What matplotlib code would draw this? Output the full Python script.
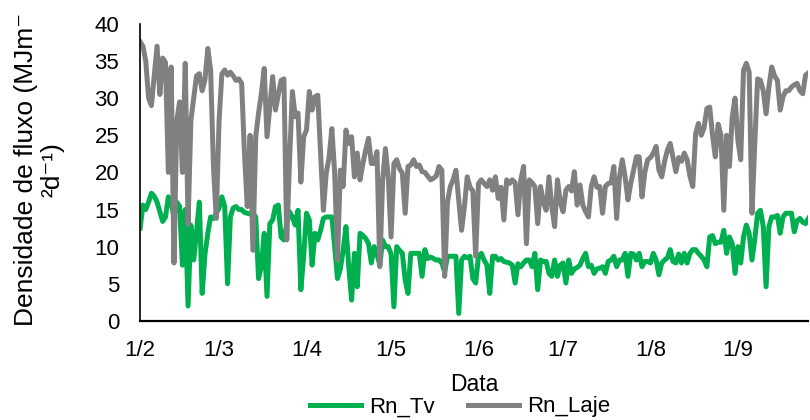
import numpy as np
import pandas as pd
import matplotlib
matplotlib.use("Agg")
import matplotlib.pyplot as plt
import matplotlib.dates as mdates

plt.rcParams['font.family'] = ['Liberation Sans', 'DejaVu Sans']

# daily net radiation (MJ m-2 d-1), from 1 Feb
rn_laje = [
    37.6, 37.0, 35.0, 30.0, 29.0, 33.0, 37.0, 30.5, 35.4, 34.8,
    20.0, 34.2, 7.8, 27.0, 29.5, 20.0, 34.7, 13.0, 27.0, 30.0,
    33.0, 33.3, 31.0, 32.5, 36.7, 33.8, 20.8, 13.8, 27.0, 33.3,
    33.8, 33.1, 33.5, 33.0, 32.4, 32.6, 32.0, 22.6, 15.4, 25.0,
    9.5, 24.8, 28.0, 30.6, 34.0, 24.8, 28.8, 32.9, 28.4, 30.5,
    32.4, 32.6, 10.9, 21.7, 30.9, 27.5, 28.0, 18.7, 24.8, 25.7,
    30.9, 28.4, 30.2, 30.4, 22.6, 14.9, 19.9, 22.0, 25.9, 19.9,
    8.2, 20.3, 18.1, 25.7, 23.9, 24.8, 19.4, 22.6, 19.0, 21.2,
    23.0, 24.6, 21.2, 21.2, 22.8, 7.3, 19.0, 23.2, 19.4, 11.3,
    21.2, 21.7, 20.5, 19.9, 14.5, 20.8, 21.0, 21.7, 20.8, 21.0,
    20.1, 20.0, 19.5, 19.0, 19.2, 19.5, 20.8, 20.3, 6.0, 16.0,
    18.1, 19.0, 20.3, 16.3, 12.2, 15.4, 19.4, 18.0, 17.5, 8.7,
    18.5, 19.0, 18.5, 18.1, 19.0, 17.6, 19.4, 16.5, 18.0, 13.6,
    19.0, 18.5, 19.0, 18.6, 14.3, 19.0, 20.8, 10.4, 19.0, 18.6,
    18.1, 13.1, 18.1, 16.0, 14.9, 19.4, 15.4, 12.7, 19.0, 16.0,
    14.7, 17.6, 18.1, 17.5, 20.1, 15.6, 18.3, 15.6, 14.7, 14.0,
    18.1, 19.4, 18.0, 18.1, 14.5, 18.1, 18.5, 18.6, 20.8, 13.8,
    19.4, 21.7, 19.4, 16.3, 18.5, 20.3, 22.1, 22.1, 16.7, 20.0,
    21.7, 22.0, 22.6, 23.5, 20.3, 19.4, 21.5, 23.0, 23.9, 22.0,
    20.1, 22.0, 21.5, 22.6, 21.7, 19.5, 18.1, 25.2, 26.6, 25.0,
    26.0, 28.6, 28.8, 25.0, 22.1, 26.5, 25.0, 14.9, 25.0, 20.8,
    27.5, 30.0, 24.3, 21.7, 33.8, 34.7, 33.5, 14.5, 24.0, 32.6,
    32.4, 31.0, 27.9, 31.5, 34.2, 33.0, 32.4, 28.4, 30.2, 31.0,
    31.0, 31.5, 31.8, 32.0, 31.0, 30.6, 33.1, 33.4,
]

rn_tv = [
    12.5, 15.6, 15.0, 16.0, 17.2, 16.8, 16.0, 14.7, 13.4, 14.0,
    16.7, 16.0, 14.0, 16.0, 15.4, 7.5, 15.0, 2.0, 12.9, 8.2,
    12.0, 16.0, 3.7, 9.0, 11.8, 14.0, 13.8, 14.5, 15.2, 16.7,
    15.4, 5.0, 14.0, 15.2, 15.4, 15.0, 15.0, 14.6, 14.5, 14.4,
    14.5, 14.0, 5.7, 7.3, 11.8, 3.3, 13.1, 13.6, 15.4, 15.6,
    11.3, 10.9, 13.1, 14.7, 14.0, 12.9, 14.9, 4.2, 8.7, 14.5,
    13.6, 7.5, 11.8, 10.9, 12.2, 13.8, 14.0, 14.0, 14.0, 10.0,
    5.7, 7.0, 9.5, 12.7, 7.3, 2.8, 9.1, 4.6, 11.8, 11.5,
    11.1, 10.4, 7.8, 10.0, 9.0, 7.5, 10.9, 10.0, 10.0, 9.0,
    1.9, 10.0, 9.5, 9.1, 5.5, 3.7, 9.1, 9.1, 9.1, 9.1,
    6.0, 9.6, 8.4, 8.6, 8.4, 8.2, 8.2, 7.8, 6.6, 8.7,
    8.7, 8.7, 8.7, 1.0, 8.2, 8.7, 8.5, 8.7, 5.7, 5.1,
    8.7, 9.1, 8.2, 7.5, 3.7, 8.7, 8.7, 8.2, 8.4, 8.0,
    7.9, 7.8, 7.5, 5.1, 7.7, 7.3, 7.8, 8.2, 8.2, 7.3,
    9.1, 4.2, 8.2, 8.0, 8.0, 6.4, 6.0, 8.2, 6.0, 7.5,
    7.8, 5.1, 8.2, 6.4, 7.0, 7.2, 7.5, 8.4, 9.1, 7.3,
    7.5, 6.4, 7.0, 7.1, 7.3, 6.4, 8.0, 8.2, 8.7, 7.3,
    8.2, 8.2, 9.1, 6.0, 9.1, 9.0, 8.2, 9.1, 7.3, 8.0,
    8.0, 7.8, 9.1, 8.2, 6.2, 7.8, 8.2, 8.5, 9.6, 8.0,
    7.8, 9.0, 7.8, 9.1, 7.8, 9.1, 9.6, 9.6, 9.1, 8.7,
    8.2, 7.3, 11.3, 11.5, 10.4, 10.6, 10.6, 12.2, 9.1, 11.3,
    10.4, 6.4, 10.0, 7.8, 11.3, 12.9, 11.8, 8.2, 11.0, 14.5,
    14.9, 12.7, 4.6, 12.7, 14.0, 14.0, 14.2, 11.8, 14.0, 14.5,
    14.5, 14.5, 12.0, 13.5, 13.8, 13.3, 13.1, 13.8,
]

dates = pd.date_range("2023-02-01", periods=len(rn_tv), freq="D")
month_ticks = pd.date_range("2023-02-01", "2023-09-01", freq="MS")

fig = plt.figure(figsize=(8.1, 4.2), dpi=100)
ax = fig.add_axes([0.173, 0.236, 0.825, 0.707])

ax.plot(dates, rn_tv, color="#00B050", lw=3.6, label="Rn_Tv", solid_joinstyle="round")
ax.plot(dates, rn_laje, color="#808080", lw=3.6, label="Rn_Laje", solid_joinstyle="round")

ax.set_xlim(dates[0], dates[-1])
ax.set_ylim(0, 40)
ax.set_yticks(np.arange(0, 41, 5))
ax.set_xticks(month_ticks)
ax.xaxis.set_major_formatter(plt.FuncFormatter(
    lambda v, p: "{}/{}".format(mdates.num2date(v).day, mdates.num2date(v).month)))
ax.tick_params(length=0, labelsize=16, colors="#000000")
ax.tick_params(axis="x", pad=14)
ax.tick_params(axis="y", pad=15)

for s in ["top", "right"]:
    ax.spines[s].set_visible(False)
ax.spines["left"].set_linewidth(1.2)
ax.spines["bottom"].set_linewidth(1.6)

ax.set_xlabel("Data", fontsize=16.5)
ax.xaxis.set_label_coords(0.5, -0.175)
ax.set_ylabel("Densidade de fluxo (MJm⁻\n²d⁻¹)", fontsize=19, linespacing=1.15)
ax.yaxis.set_label_coords(-0.113, 0.51)

ax.legend(loc="center", bbox_to_anchor=(0.479, -0.29), ncol=2, frameon=False,
          fontsize=16, handlelength=2.3, handletextpad=0.35, columnspacing=1.5,
          borderaxespad=0)

fig.savefig("out.png", dpi=100)
